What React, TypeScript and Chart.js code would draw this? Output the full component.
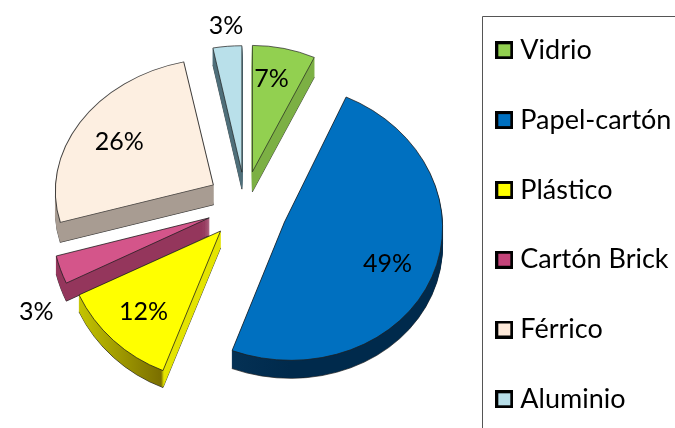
import React, { useEffect, useRef } from "react";
import { Chart, registerables } from "chart.js";

Chart.register(...registerables);

const categories = ["Vidrio", "Papel-cartón", "Plástico", "Cartón Brick", "Férrico", "Aluminio"];
const shares = [7, 49, 12, 3, 26, 3];

const topColors = ["#92d050", "#0070c0", "#ffff00", "#d4558a", "#fdefe1", "#b9e0ea"];
const legendColors = ["#92d050", "#0070c0", "#ffff00", "#c4447a", "#fde9d9", "#b7dee8"];
const explode = [34, 43, 35.7, 38, 37.5, 33];
const stretchX = [0.92, 1, 0.99, 1.0, 1, 0.98];
const stretchY = [0.8, 0.875, 0.95, 0.97, 0.8, 0.8];
const skewX = [0, 0.045, 0, 0, 0, 0];
const skewY = [0, 0, 0, 0, -0.04, 0];
const depth = [20, 18, 17, 18, 20, 17];
const wallStops: [number, string][][] = [
  [[0, "#7cb044"], [1, "#7cb044"]],
  [[0, "#0a3a60"], [1, "#002a4c"]],
  [[0, "#c4c400"], [0.58, "#7a6e00"], [0.6, "#e4e400"], [1, "#e4e400"]],
  [[0, "#94365c"], [1, "#94365c"]],
  [[0, "#a89c92"], [1, "#a89c92"]],
  [[0, "#4f6f7a"], [1, "#4f6f7a"]],
];
const drawOrder = [5, 0, 4, 3, 2, 1];
const labelFrom: [number, number][] = [[19, -93], [103, 42], [-77, 81], [-173, 94], [-94, -43], [-16, -146]];

const FONT = "Lato";
const PAGE_TOP = -6;
const PIE_SHIFT = -24;

function swatch(color: string) {
  const c = document.createElement("canvas");
  c.width = 18;
  c.height = 18;
  const g = c.getContext("2d")!;
  g.fillStyle = "#000";
  g.fillRect(0, 0, 18, 18);
  g.fillStyle = color;
  g.fillRect(3, 3, 12, 12);
  return c;
}

const OPTION_KEYS = ["offset", "spacing", "circular", "borderAlign", "borderWidth", "borderColor", "backgroundColor", "borderJoinStyle", "borderRadius", "borderDash", "borderDashOffset", "selfJoin"];

const pie3d = {
  id: "pie3d",
  beforeDatasetsDraw(chart: any) {
    const ctx: CanvasRenderingContext2D = chart.ctx;
    const arcs = chart.getDatasetMeta(0).data;
    ctx.save();
    ctx.translate(0, PIE_SHIFT);
    const apexOf = (arc: any, i: number) => {
      const half = (arc.startAngle + arc.endAngle) / 2;
      return { x: arc.x + Math.cos(half) * explode[i], y: arc.y + Math.sin(half) * explode[i] };
    };
    const paint = (arc: any, i: number, dy: number, fill: any, stroke: any, width: number) => {
      const original = arc.options;
      const o: any = {};
      OPTION_KEYS.forEach((k) => (o[k] = original[k]));
      o.backgroundColor = fill;
      o.borderColor = stroke;
      o.borderWidth = width;
      o.borderJoinStyle = "round";
      arc.options = o;
      const a = apexOf(arc, i);
      ctx.save();
      ctx.translate(a.x, a.y + dy);
      ctx.transform(1, skewY[i], skewX[i], 1, 0, 0);
      ctx.scale(stretchX[i], stretchY[i]);
      ctx.translate(-arc.x, -arc.y);
      arc.draw(ctx);
      ctx.restore();
      arc.options = original;
    };
    drawOrder.forEach((i) => {
      const arc = arcs[i];
      const grad = ctx.createLinearGradient(arc.x - 143, 0, arc.x, 0);
      wallStops[i].forEach(([p, c]) => grad.addColorStop(p, c));
      paint(arc, i, depth[i], grad, "rgba(30,30,30,0.75)", 1);
      for (let d = depth[i] - 1; d > 0; d--) paint(arc, i, d, grad, grad, 0.6);
      paint(arc, i, 0, topColors[i], "rgba(30,30,30,0.8)", 1);
    });
    ctx.fillStyle = "#000";
    ctx.font = `25px ${FONT}`;
    ctx.textAlign = "center";
    ctx.textBaseline = "middle";
    drawOrder.forEach((i) => {
      const a = apexOf(arcs[i], i);
      ctx.fillText(`${shares[i]}%`, a.x + labelFrom[i][0], a.y + labelFrom[i][1]);
    });
    ctx.restore();
    return false;
  },
  afterDraw(chart: any) {
    const ctx: CanvasRenderingContext2D = chart.ctx;
    const lg = chart.legend;
    const x = Math.round(lg.left + 23) + 0.5;
    const y = 22.5;
    ctx.save();
    ctx.lineWidth = 1;
    ctx.strokeStyle = "#555";
    ctx.beginPath();
    ctx.moveTo(chart.width, y);
    ctx.lineTo(x, y);
    ctx.lineTo(x, chart.height);
    ctx.stroke();
    ctx.restore();
  },
};

export default function App() {
  const ref = useRef<HTMLCanvasElement>(null);
  useEffect(() => {
    document.body.style.margin = "0";
    const chart = new Chart(ref.current!, {
      type: "pie",
      data: {
        labels: categories,
        datasets: [{ data: shares, backgroundColor: topColors, borderWidth: 1 } as any],
      },
      plugins: [pie3d],
      options: {
        animation: false,
        responsive: false,
        radius: 158,
        layout: { padding: { left: 31 } },
        plugins: {
          tooltip: { enabled: false },
          legend: {
            position: "right",
            align: "start",
            maxWidth: 216,
            labels: {
              usePointStyle: true,
              pointStyleWidth: 5,
              padding: 42.8,
              color: "#000",
              font: { family: FONT, size: 27 },
              generateLabels: () =>
                categories.map((text, i) => ({
                  text,
                  index: i,
                  datasetIndex: 0,
                  fontColor: "#000",
                  pointStyle: swatch(legendColors[i]) as any,
                  hidden: false,
                })),
            },
          },
        },
      } as any,
    });
    return () => chart.destroy();
  }, []);
  return (
    <div style={{ position: "relative", width: 675, height: 428, overflow: "hidden" }}>
      <canvas ref={ref} width={675} height={470} style={{ position: "absolute", left: 0, top: PAGE_TOP, display: "block" }} />
    </div>
  );
}
